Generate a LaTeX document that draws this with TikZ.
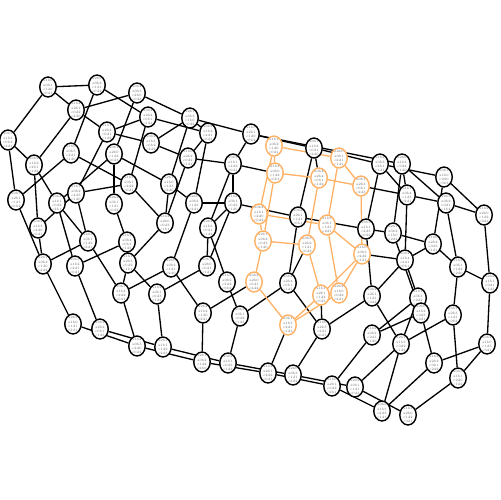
\documentclass[tikz,border=0pt]{standalone}
\usetikzlibrary{shapes.geometric,backgrounds}
\newcommand{\lb}[4]{#1\\#2\\#3\\#4}
\tikzset{
  vx/.style={draw, ellipse, line width=0.8pt, fill=white, minimum width=0.33cm, minimum height=0.4cm,
    inner sep=-1.2pt, align=center, font=\fontsize{1.9}{2.4}\selectfont, text=black!60},
  og/.style={draw=orange!60},
  ed/.style={line width=0.75pt},
  oe/.style={line width=0.75pt, draw=orange!60}
}

\begin{document}
\begin{tikzpicture}[x=0.02cm, y=-0.02cm]
	\useasboundingbox (0,0) rectangle (500,500);

	% left block
	\node[vx] (a1) at (48,87) {\lb{a1b0}{a0b1}{c1d0}{c0d1}};
	\node[vx] (a2) at (97,85) {\lb{a2b0}{a0b2}{c1d1}{c0d2}};
	\node[vx] (a3) at (137,93) {\lb{a0b4}{a0b3}{c2b0}{c0d3}};
	\node[vx] (a4) at (76,110) {\lb{a1b2}{a2b1}{c0d2}{c2d0}};
	\node[vx] (a5) at (148,117) {\lb{a0b4}{a2b4}{c0b1}{c1d1}};
	\node[vx] (a6) at (8,140) {\lb{a0b1}{a1b3}{c0b2}{c2d1}};
	\node[vx] (a7) at (107,132) {\lb{a1b1}{a2b2}{c0d1}{c1d2}};
	\node[vx] (a8) at (151,143) {\lb{a0b2}{a1b4}{c0b2}{c2d2}};
	\node[vx] (a9) at (71,153) {\lb{a1b0}{a0b3}{c2d1}{c1d0}};
	\node[vx] (a10) at (114,154) {\lb{a0b1}{a2b0}{c1d2}{c0d3}};
	\node[vx] (a11) at (34,165) {\lb{a0b2}{a1b2}{c2b1}{c1d2}};
	\node[vx] (a12) at (129,184) {\lb{a1b3}{a0b1}{c2d2}{c0d1}};
	\node[vx] (a13) at (169,184) {\lb{a2b1}{a1b0}{c1d3}{c2d0}};
	\node[vx] (a14) at (16,200) {\lb{a0b3}{a2b1}{c1d1}{c0b2}};
	\node[vx] (a15) at (76,193) {\lb{a1b1}{a0b2}{c2d3}{c1d0}};
	\node[vx] (a16) at (57,203) {\lb{a0b4}{a1b1}{c0d2}{c2b1}};
	\node[vx] (a17) at (114,204) {\lb{a2b2}{a0b1}{c1d1}{c0d2}};
	\node[vx] (a18) at (165,223) {\lb{a1b4}{a2b0}{c0d3}{c1b1}};
	\node[vx] (a19) at (38,228) {\lb{a0b2}{a1b3}{c2d0}{c0d1}};
	\node[vx] (a20) at (88,241) {\lb{a2b3}{a0b1}{c1d2}{c2d1}};
	\node[vx] (a21) at (127,242) {\lb{a1b2}{a0b4}{c0b1}{c1d3}};

	% middle block
	\node[vx] (b1) at (190,118) {\lb{a2b1}{a0b3}{c1b0}{c0d2}};
	\node[vx] (b2) at (208,133) {\lb{a0b2}{a1b4}{c2d1}{c0d1}};
	\node[vx] (b3) at (251,134) {\lb{a1b3}{a2b1}{c1d0}{c0b2}};
	\node[vx] (b5) at (314,148) {\lb{a0b1}{a1b2}{c0d1}{c2d0}};
	\node[vx] (b7) at (188,158) {\lb{a1b0}{a2b2}{c0d2}{c1d1}};
	\node[vx] (b8) at (233,164) {\lb{a0b3}{a1b1}{c2d2}{c0d1}};
	\node[vx] (b12) at (194,203) {\lb{a2b0}{a0b2}{c1d3}{c2d1}};
	\node[vx] (b13) at (233,203) {\lb{a1b2}{a0b1}{c0d2}{c1d0}};
	\node[vx] (b15) at (298,217) {\lb{a0b4}{a2b1}{c1d1}{c0b1}};
	\node[vx] (b18) at (208,228) {\lb{a2b2}{a1b3}{c0d1}{c1d2}};

	% highlighted block
	\node[vx, og] (b4) at (274,146) {\lb{a1b1}{a0b2}{c1d0}{c0d1}};
	\node[vx, og] (c1) at (339,158) {\lb{a2b0}{a0b1}{c2d1}{c1d1}};
	\node[vx, og] (b9) at (275,173) {\lb{a1b2}{a0b0}{c1d2}{c0b1}};
	\node[vx, og] (b10) at (319,178) {\lb{a0b4}{a2b4}{c0b1}{c1d2}};
	\node[vx, og] (c5) at (361,186) {\lb{a0b1}{a2b3}{c0b1}{c2d3}};
	\node[vx, og] (b14) at (259,214) {\lb{a0b2}{a1b1}{c2d0}{c0d2}};
	\node[vx, og] (b16) at (327,225) {\lb{a1b3}{a0b1}{c1d1}{c2d1}};
	\node[vx, og] (b19) at (263,241) {\lb{a2b1}{a0b2}{c0d3}{c1d0}};
	\node[vx, og] (b20) at (307,245) {\lb{a0b3}{a2b2}{c1d1}{c0d2}};
	\node[vx, og] (c12) at (362,254) {\lb{a1b0}{a0b3}{c2d2}{c1d1}};
	\node[vx, og] (o11) at (254,282) {\lb{a0b2}{a2b0}{c0d1}{c2d2}};
	\node[vx, og] (o12) at (321,295) {\lb{a1b1}{a2b1}{c1d2}{c0d3}};
	\node[vx, og] (c16) at (339,293) {\lb{a2b2}{a1b0}{c0d2}{c2d1}};
	\node[vx, og] (o14) at (288,325) {\lb{a0b1}{a1b3}{c2d1}{c1d3}};

	% right block
	\node[vx] (c2) at (380,164) {\lb{a1b4}{a0b3}{c2b1}{c1d1}};
	\node[vx] (c3) at (402,164) {\lb{a2b0}{a1b2}{c0d2}{c1d0}};
	\node[vx] (c4) at (444,177) {\lb{a0b1}{a1b0}{c2d0}{c0b3}};
	\node[vx] (c6) at (407,195) {\lb{a1b1}{a0b4}{c1d3}{c2d1}};
	\node[vx] (c7) at (446,203) {\lb{a2b3}{a0b2}{c0d1}{c1b2}};
	\node[vx] (c8) at (484,215) {\lb{a1b2}{a2b0}{c1d2}{c0d1}};
	\node[vx] (c9) at (366,229) {\lb{a0b3}{a1b1}{c2d3}{c0d2}};
	\node[vx] (c10) at (393,233) {\lb{a2b1}{a0b2}{c1b0}{c2d2}};
	\node[vx] (c11) at (433,244) {\lb{a1b0}{a2b2}{c0d3}{c1d1}};
	\node[vx] (c13) at (405,260) {\lb{a0b2}{a1b4}{c2d1}{c0b1}};
	\node[vx] (c14) at (458,267) {\lb{a1b3}{a0b1}{c1d2}{c2d0}};
	\node[vx] (c15) at (490,283) {\lb{a2b2}{a1b1}{c0d1}{c1d3}};
	\node[vx] (c17) at (372,296) {\lb{a0b4}{a2b1}{c1d1}{c0d2}};
	\node[vx] (c18) at (418,298) {\lb{a1b1}{a0b3}{c2d2}{c1b0}};
	\node[vx] (d1) at (421,313) {\lb{a2b0}{a1b2}{c0d3}{c2d1}};
	\node[vx] (d2) at (453,315) {\lb{a0b1}{a2b3}{c1d1}{c0b2}};
	\node[vx] (d3) at (372,335) {\lb{a1b2}{a0b2}{c2d1}{c1d0}};
	\node[vx] (d4) at (401,344) {\lb{a2b1}{a1b3}{c0d2}{c1d2}};
	\node[vx] (d5) at (487,344) {\lb{a0b2}{a1b0}{c1d3}{c0d1}};
	\node[vx] (d6) at (434,363) {\lb{a1b4}{a2b2}{c0b1}{c2d2}};
	\node[vx] (d7) at (458,378) {\lb{a0b3}{a1b1}{c2d0}{c1d2}};
	\node[vx] (d8) at (355,387) {\lb{a2b2}{a0b1}{c1d1}{c0d3}};
	\node[vx] (d9) at (332,386) {\lb{a1b0}{a2b1}{c0d2}{c2b1}};
	\node[vx] (d10) at (382,411) {\lb{a0b2}{a1b3}{c2d3}{c1d1}};
	\node[vx] (d11) at (408,415) {\lb{a1b3}{a2b0}{c1d2}{c0d1}};

	% lower block
	\node[vx] (l1) at (43,264) {\lb{a2b1}{a0b4}{c1d0}{c2d2}};
	\node[vx] (l2) at (75,266) {\lb{a0b3}{a1b2}{c2d1}{c0d1}};
	\node[vx] (l3) at (128,263) {\lb{a1b1}{a2b3}{c0d2}{c1b1}};
	\node[vx] (l4) at (171,267) {\lb{a2b0}{a0b2}{c1d3}{c2d0}};
	\node[vx] (l5) at (121,293) {\lb{a0b1}{a1b4}{c2d2}{c0d1}};
	\node[vx] (l6) at (157,294) {\lb{a1b2}{a0b1}{c0d3}{c1d2}};
	\node[vx] (l9) at (73,324) {\lb{a2b3}{a1b0}{c1d1}{c2d1}};
	\node[vx] (l10) at (100,329) {\lb{a0b2}{a2b2}{c0b1}{c1d3}};
	\node[vx] (l11) at (137,346) {\lb{a1b4}{a0b3}{c2d0}{c0d2}};
	\node[vx] (l12) at (163,347) {\lb{a2b1}{a1b1}{c1d2}{c2d3}};
	\node[vx] (n2) at (207,266) {\lb{a0b1}{a2b0}{c0d1}{c1d1}};
	\node[vx] (n3) at (227,282) {\lb{a1b3}{a0b2}{c2d2}{c0b2}};
	\node[vx] (k1) at (288,283) {\lb{a0b4}{a2b4}{c0b1}{c1d1}};
	\node[vx] (n4) at (203,313) {\lb{a2b2}{a1b2}{c1d0}{c2d1}};
	\node[vx] (n5) at (240,316) {\lb{a0b3}{a0b1}{c0d2}{c1d3}};
	\node[vx] (k2) at (322,329) {\lb{a1b0}{a2b3}{c2d1}{c0d1}};
	\node[vx] (n7) at (202,362) {\lb{a2b1}{a0b2}{c1d2}{c2b0}};
	\node[vx] (n8) at (228,363) {\lb{a0b2}{a1b1}{c0d3}{c1d2}};
	\node[vx] (n9) at (268,373) {\lb{a1b2}{a2b1}{c2d2}{c0d1}};
	\node[vx] (n10) at (293,375) {\lb{a2b0}{a0b3}{c1d1}{c2d2}};

	\begin{scope}[on background layer]
		% black edges
		\draw[ed] (a1) -- (a2);
		\draw[ed] (a1) -- (a6);
		\draw[ed] (a1) -- (a4);
		\draw[ed] (a2) -- (a9);
		\draw[ed] (a2) -- (a5);
		\draw[ed] (a3) -- (a4);
		\draw[ed] (a3) -- (b1);
		\draw[ed] (a3) -- (a10);
		\draw[ed] (a4) -- (a7);
		\draw[ed] (a4) -- (a11);
		\draw[ed] (a5) -- (a7);
		\draw[ed] (a5) -- (b2);
		\draw[ed] (a5) -- (a12);
		\draw[ed] (a7) -- (a8);
		\draw[ed] (a8) -- (b1);
		\draw[ed] (a8) -- (b7);
		\draw[ed] (a6) -- (a14);
		\draw[ed] (a6) -- (a11);
		\draw[ed] (a11) -- (a19);
		\draw[ed] (a11) -- (a16);
		\draw[ed] (a9) -- (a14);
		\draw[ed] (a9) -- (a12);
		\draw[ed] (a7) -- (a15);
		\draw[ed] (a10) -- (a13);
		\draw[ed] (a10) -- (a16);
		\draw[ed] (a10) -- (a17);
		\draw[ed] (a12) -- (a18);
		\draw[ed] (a12) -- (a15);
		\draw[ed] (a15) -- (a20);
		\draw[ed] (a16) -- (a20);
		\draw[ed] (a17) -- (a21);
		\draw[ed] (a13) -- (b1);
		\draw[ed] (a13) -- (b12);
		\draw[ed] (a13) -- (a18);
		\draw[ed] (a14) -- (l1);
		\draw[ed] (a19) -- (l1);
		\draw[ed] (a15) -- (a19);
		\draw[ed] (l1) -- (a20);
		\draw[ed] (l1) -- (l9);
		\draw[ed] (l2) -- (l10);
		\draw[ed] (l2) -- (a16);
		\draw[ed] (l2) -- (a21);
		\draw[ed] (l3) -- (a21);
		\draw[ed] (l3) -- (l5);
		\draw[ed] (l3) -- (l6);
		\draw[ed] (l3) -- (a18);
		\draw[ed] (l5) -- (l11);
		\draw[ed] (l5) -- (a20);
		\draw[ed] (l5) -- (l4);
		\draw[ed] (l6) -- (l12);
		\draw[ed] (l6) -- (n2);
		% bottom rail
		\draw[ed] (l9) -- (l11);
		\draw[ed] (l10) -- (l12);
		\draw[ed] (l11) -- (n7);
		\draw[ed] (l12) -- (n8);
		\draw[ed] (n7) -- (n9);
		\draw[ed] (n8) -- (n10);
		\draw[ed] (n9) -- (d9);
		\draw[ed] (n10) -- (d8);
		\draw[ed] (d9) -- (d10);
		\draw[ed] (d8) -- (d11);
		%
		\draw[ed] (l4) -- (b12);
		\draw[ed] (l4) -- (n4);
		\draw[ed] (n2) -- (b18);
		\draw[ed] (n2) -- (b13);
		\draw[ed] (n3) -- (b18);
		\draw[ed] (n3) -- (n5);
		\draw[ed] (n4) -- (n7);
		\draw[ed] (n5) -- (n8);
		\draw[ed] (o11) -- (n4);
		\draw[ed] (k1) -- (n5);
		\draw[ed] (k1) -- (b15);
		\draw[ed] (k1) -- (b20);
		\draw[ed] (k1) -- (k2);
		\draw[ed] (k2) -- (o12);
		\draw[ed] (k2) -- (n10);
		\draw[ed] (k2) -- (c17);
		\draw[ed] (o14) -- (n9);
		\draw[ed] (b1) -- (b2);
		\draw[ed] (b1) -- (b3);
		\draw[ed] (b2) -- (b7);
		\draw[ed] (b2) -- (b12);
		\draw[ed] (b3) -- (b8);
		\draw[ed] (b3) -- (b5);
		\draw[ed] (b3) -- (c3);
		\draw[ed] (b5) -- (c2);
		\draw[ed] (b5) -- (b15);
		\draw[ed] (b5) -- (b10);
		\draw[ed] (b7) -- (b8);
		\draw[ed] (b7) -- (a18);
		\draw[ed] (b8) -- (b9);
		\draw[ed] (b8) -- (b18);
		\draw[ed] (b8) -- (b13);
		\draw[ed] (b12) -- (b13);
		\draw[ed] (b13) -- (b18);
		\draw[ed] (b13) -- (b15);
		\draw[ed] (b15) -- (c9);
		\draw[ed] (c9) -- (c10);
		\draw[ed] (c10) -- (c11);
		\draw[ed] (c2) -- (c4);
		\draw[ed] (c2) -- (c9);
		\draw[ed] (c2) -- (c6);
		\draw[ed] (c3) -- (c6);
		\draw[ed] (c3) -- (c7);
		\draw[ed] (c3) -- (c10);
		\draw[ed] (c4) -- (c8);
		\draw[ed] (c4) -- (c11);
		\draw[ed] (c5) -- (c6);
		\draw[ed] (c6) -- (c7);
		\draw[ed] (c6) -- (c13);
		\draw[ed] (c7) -- (c8);
		\draw[ed] (c7) -- (c14);
		\draw[ed] (c8) -- (c15);
		\draw[ed] (c11) -- (c13);
		\draw[ed] (c11) -- (c14);
		\draw[ed] (c12) -- (c13);
		\draw[ed] (c13) -- (c17);
		\draw[ed] (c13) -- (c18);
		\draw[ed] (c14) -- (c15);
		\draw[ed] (c14) -- (d2);
		\draw[ed] (c15) -- (d5);
		\draw[ed] (c9) -- (c17);
		\draw[ed] (c17) -- (d4);
		\draw[ed] (c10) -- (d1);
		\draw[ed] (c18) -- (d3);
		\draw[ed] (c18) -- (d4);
		\draw[ed] (d1) -- (d3);
		\draw[ed] (d1) -- (d6);
		\draw[ed] (d2) -- (d4);
		\draw[ed] (d2) -- (d7);
		\draw[ed] (d5) -- (d6);
		\draw[ed] (d5) -- (d7);
		\draw[ed] (d3) -- (d9);
		\draw[ed] (d4) -- (d8);
		\draw[ed] (d4) -- (d10);
		\draw[ed] (d6) -- (d10);
		\draw[ed] (d7) -- (d11);
		% orange edges
		\draw[oe] (b4) -- (b9);
		\draw[oe] (b4) -- (c1);
		\draw[oe] (b4) -- (b14);
		\draw[oe] (b9) -- (b10);
		\draw[oe] (b9) -- (b19);
		\draw[oe] (b10) -- (c5);
		\draw[oe] (b10) -- (b20);
		\draw[oe] (c1) -- (c5);
		\draw[oe] (c1) -- (b16);
		\draw[oe] (c5) -- (c12);
		\draw[oe] (b14) -- (b16);
		\draw[oe] (b14) -- (b19);
		\draw[oe] (b19) -- (b20);
		\draw[oe] (b16) -- (c12);
		\draw[oe] (b16) -- (c16);
		\draw[oe] (b19) -- (o11);
		\draw[oe] (b20) -- (o12);
		\draw[oe] (c12) -- (o12);
		\draw[oe] (c12) -- (c16);
		\draw[oe] (o12) -- (o14);
		\draw[oe] (c16) -- (o14);
		\draw[oe] (o11) -- (o14);
	\end{scope}
\end{tikzpicture}
\end{document}
